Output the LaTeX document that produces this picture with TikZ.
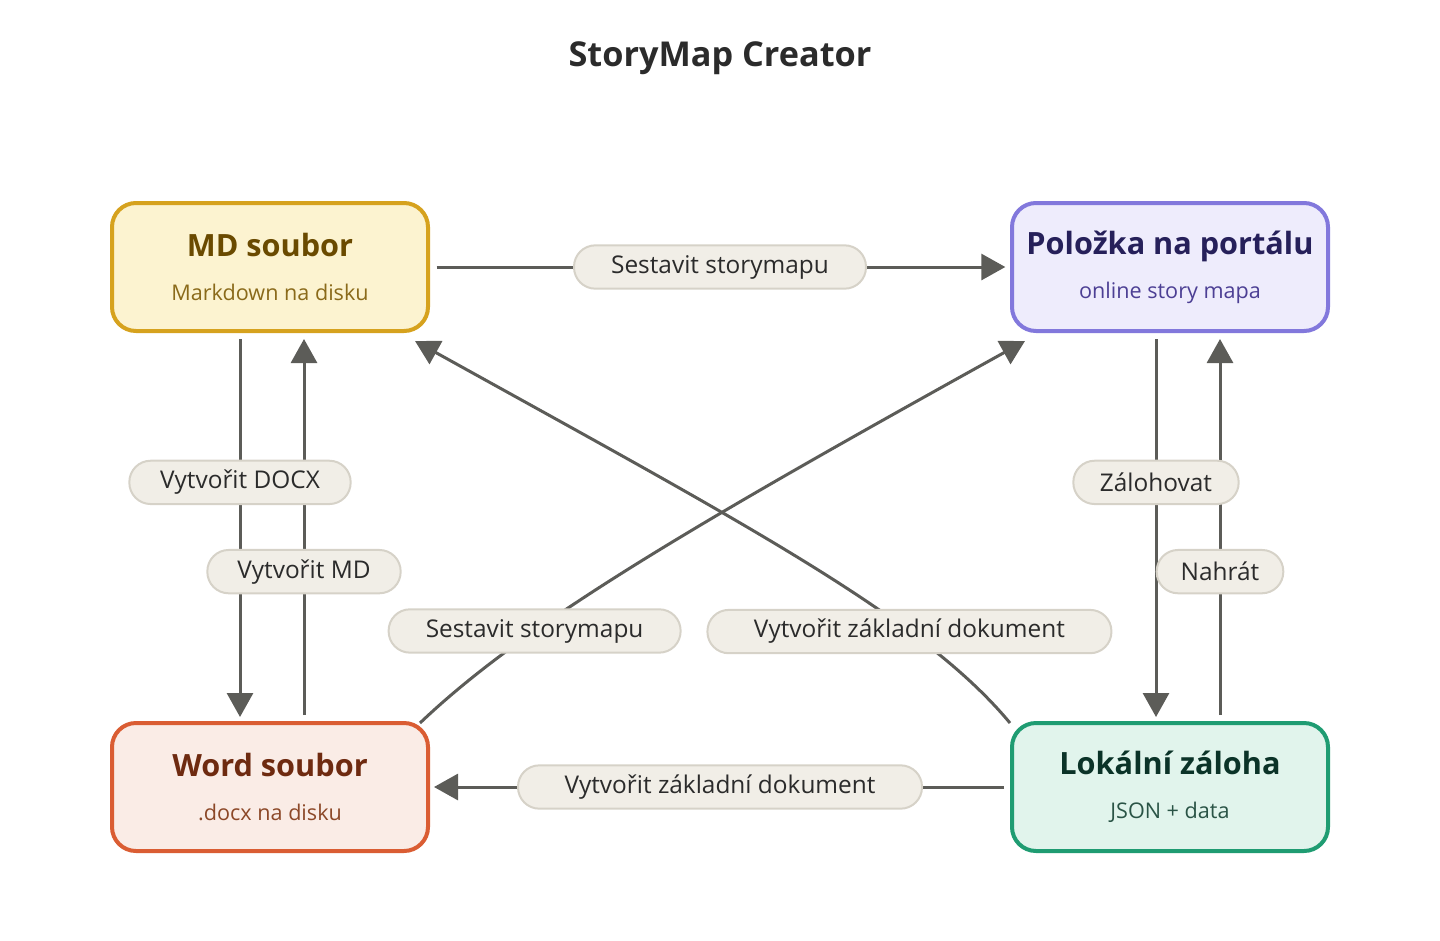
\documentclass[tikz,border=0pt]{standalone}
\usepackage{fontspec}
\setmainfont{Open Sans}
\usetikzlibrary{arrows.meta,positioning}

\definecolor{mdfill}{HTML}{FCF3D0}
\definecolor{mdline}{HTML}{D6A21E}
\definecolor{mdtitle}{HTML}{6A4A00}
\definecolor{mdsub}{HTML}{8A6A1A}
\definecolor{porfill}{HTML}{EEECFC}
\definecolor{porline}{HTML}{8278DC}
\definecolor{portitle}{HTML}{26205A}
\definecolor{porsub}{HTML}{4C3F94}
\definecolor{wordfill}{HTML}{FAECE6}
\definecolor{wordline}{HTML}{DA5D33}
\definecolor{wordtitle}{HTML}{6E2A10}
\definecolor{wordsub}{HTML}{8C4828}
\definecolor{locfill}{HTML}{E1F4EC}
\definecolor{locline}{HTML}{1F9C72}
\definecolor{loctitle}{HTML}{0B3328}
\definecolor{locsub}{HTML}{2A5446}
\definecolor{pillfill}{HTML}{F1EEE7}
\definecolor{pillline}{HTML}{D6D2C8}
\definecolor{linkgray}{HTML}{5C5C58}
\definecolor{inkdark}{HTML}{2B2B2B}

\begin{document}
\begin{tikzpicture}[
  x=0.75pt, y=-0.75pt,
  box/.style={draw, line width=3pt, rounded corners=18pt, minimum width=237pt, minimum height=96pt, align=center, inner sep=0pt, font=\bfseries\fontsize{23}{26}\selectfont},
  pill/.style={draw=pillline, fill=pillfill, line width=1.5pt, rounded corners=16pt, minimum height=32.5pt, inner xsep=18pt, inner ysep=0pt, text=inkdark, font=\fontsize{18.3}{22}\selectfont},
  link/.style={draw=linkgray, line width=2.25pt, -{Triangle[length=18pt,width=19.5pt]}},
  node distance=291pt and 435pt
]
\useasboundingbox (0,0) rectangle (1440,940);

\node[text=inkdark, font=\bfseries\fontsize{25.7}{30}\selectfont] (title) at (720,58) {StoryMap Creator};

\node[box, fill=mdfill, draw=mdline, text=mdtitle] (md) at (270,267)
  {MD soubor\\[7pt]\textcolor{mdsub}{\mdseries\fontsize{16.2}{19}\selectfont Markdown na disku}};
\node[box, fill=porfill, draw=porline, text=portitle, right=of md] (por)
  {Položka na portálu\\[7pt]\textcolor{porsub}{\mdseries\fontsize{16.2}{19}\selectfont online story mapa}};
\node[box, fill=wordfill, draw=wordline, text=wordtitle, below=of md] (word)
  {Word soubor\\[7pt]\textcolor{wordsub}{\mdseries\fontsize{16.2}{19}\selectfont .docx na disku}};
\node[box, fill=locfill, draw=locline, text=loctitle, below=of por] (loc)
  {Lokální záloha\\[7pt]\textcolor{locsub}{\mdseries\fontsize{16.2}{19}\selectfont JSON + data}};

% top and bottom
\draw[link, shorten <=5pt, shorten >=3.5pt] (md.east) -- coordinate[pos=0.5] (l1) (por.west);
\draw[link, shorten <=4.5pt, shorten >=3pt] (loc.west) -- coordinate[pos=0.5] (l2) (word.east);

% left column
\draw[link, shorten <=4.5pt, shorten >=3pt] ([xshift=-22.5pt]md.south) -- coordinate[pos=0.385] (l3) ([xshift=-22.5pt]word.north);
\draw[link, shorten <=4.5pt, shorten >=4.5pt] ([xshift=25.5pt]word.north) -- coordinate[pos=0.385] (l4) ([xshift=25.5pt]md.south);

% right column
\draw[link, shorten <=4.5pt, shorten >=3pt] ([xshift=-10.5pt]por.south) -- coordinate[pos=0.385] (l5) ([xshift=-10.5pt]loc.north);
\draw[link, shorten <=4.5pt, shorten >=4.5pt] ([xshift=37.5pt]loc.north) -- coordinate[pos=0.385] (l6) ([xshift=37.5pt]por.south);

% diagonals
\draw[link] ([shift={(-10,2)}]word.north east) .. controls +(105,-100) and +(-330,183) .. coordinate[pos=0.3] (l7) ([shift={(15,8)}]por.south west);
\draw[link] ([shift={(0,2)}]loc.north west) .. controls +(-88,-106) and +(330,183) .. coordinate[pos=0.29] (l8) ([shift={(-15,8)}]md.south east);

% labels on top
\node[pill, minimum width=219pt] at (l1) {Sestavit storymapu};
\node[pill, minimum width=303pt] at (l2) {Vytvořit základní dokument};
\node[pill, minimum width=166pt] at (l3) {Vytvořit DOCX};
\node[pill, minimum width=145pt] at (l4) {Vytvořit MD};
\node[pill, minimum width=124pt] at (l5) {Zálohovat};
\node[pill, minimum width=93pt] at (l6) {Nahrát};
\node[pill, minimum width=219pt] at (l7) {Sestavit storymapu};
\node[pill, minimum width=303pt] at (l8) {Vytvořit základní dokument};
\end{tikzpicture}
\end{document}
